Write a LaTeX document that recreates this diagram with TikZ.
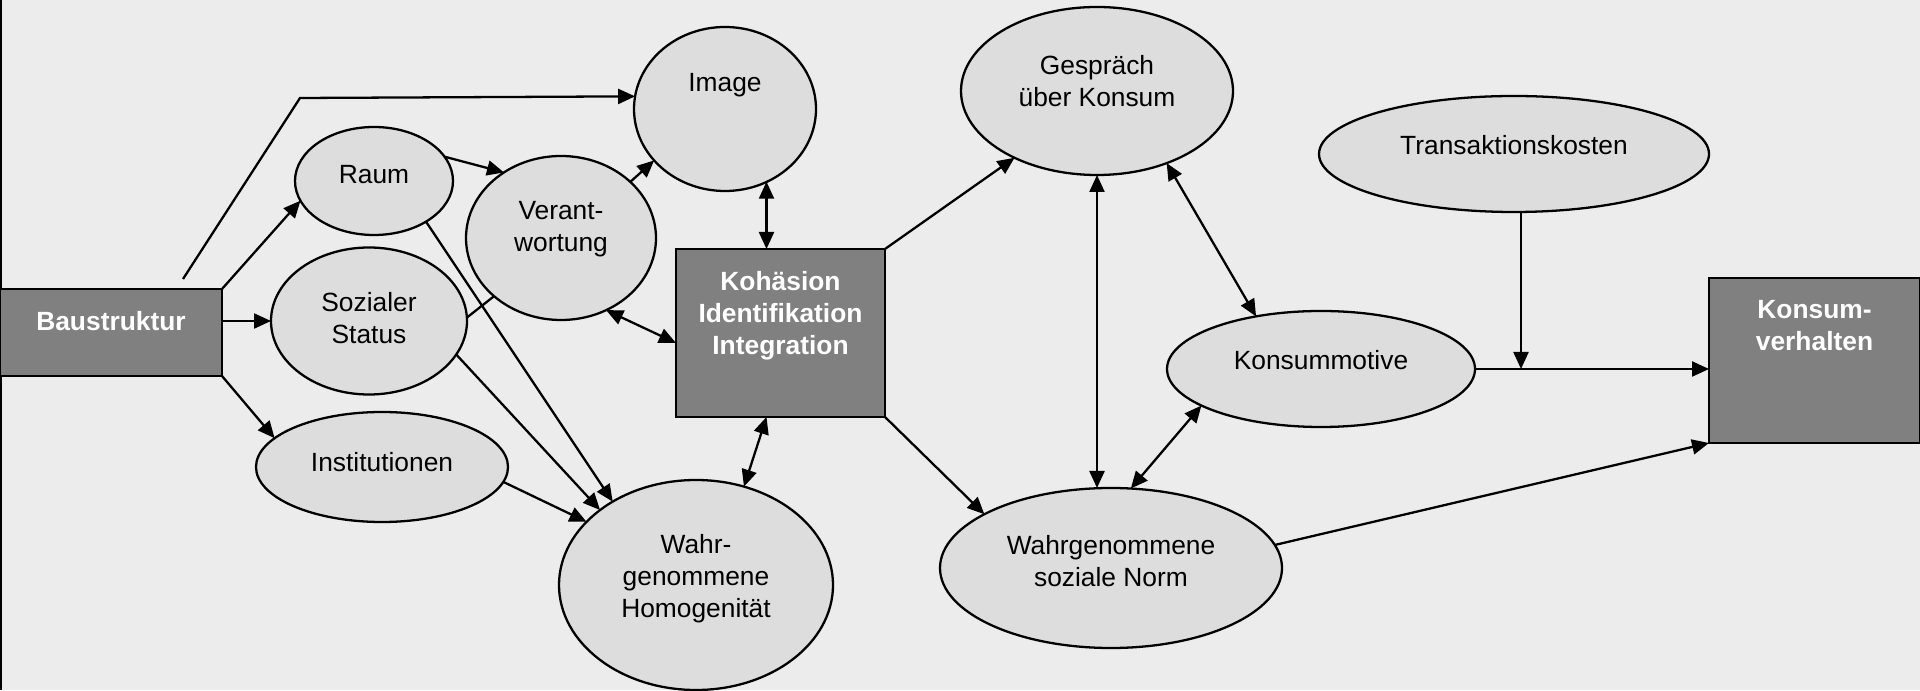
\documentclass[tikz,border=0pt]{standalone}
\usepackage{fontspec}
\setmainfont{Liberation Sans}
\usetikzlibrary{positioning,arrows.meta,calc,shapes.geometric}
\definecolor{bggray}{RGB}{236,236,236}
\definecolor{ovalgray}{RGB}{221,221,221}
\definecolor{boxgray}{RGB}{128,128,128}

\begin{document}
\begin{tikzpicture}[
  font=\fontsize{7.5}{9.1}\selectfont,
  oval/.style={ellipse, draw, fill=ovalgray, line width=0.65pt, inner sep=0pt, outer sep=0pt},
  darkbox/.style={rectangle, draw, fill=boxgray, line width=0.65pt, inner sep=0pt, outer sep=0pt},
  boxlabel/.style={text=white, font=\fontsize{7.5}{9.1}\selectfont\bfseries, align=center, inner sep=0pt},
  ovallabel/.style={align=center, inner sep=0pt},
  link/.style={line width=0.65pt, -{Triangle[length=1.7mm,width=1.5mm]}},
  twoway/.style={line width=0.65pt, {Triangle[length=1.7mm,width=1.5mm]}-{Triangle[length=1.7mm,width=1.5mm]}},
  bareline/.style={line width=0.65pt}
]
  \useasboundingbox (0,0) rectangle (19.2,6.9);
  \fill[bggray] (0,0) rectangle (19.2,6.9);
  \draw[line width=1pt] (0,0) -- (0,6.9);

  % left part: Baustruktur and its effects
  \node[darkbox, minimum width=2.22cm, minimum height=0.87cm] (bau) at (1.11,3.575) {};
  \node[boxlabel, below=0.22cm of bau.north] (bautxt) {Baustruktur};
  \node[oval, minimum width=1.58cm, minimum height=1.08cm] (raum) at (3.74,5.09) {};
  \node[ovallabel] (raumtxt) at ([yshift=0.06cm]raum.center) {Raum};
  \node[oval, minimum width=1.96cm, minimum height=1.47cm] (status) at (3.69,3.69) {};
  \node[ovallabel] (statustxt) at ([yshift=0.03cm]status.center) {Sozialer\\Status};
  \node[oval, minimum width=2.52cm, minimum height=1.10cm] (inst) at (3.82,2.23) {};
  \node[ovallabel] (insttxt) at ([yshift=0.05cm]inst.center) {Institutionen};
  \node[oval, minimum width=1.90cm, minimum height=1.64cm] (verant) at (5.61,4.52) {};
  \node[ovallabel] (veranttxt) at ([yshift=0.09cm]verant.center) {Verant-\\wortung};
  \node[oval, minimum width=1.82cm, minimum height=1.64cm] (img) at (7.25,5.81) {};
  \node[ovallabel] (imgtxt) at ([yshift=0.24cm]img.center) {Image};
  \node[oval, minimum width=2.74cm, minimum height=2.10cm] (homog) at (6.96,1.05) {};
  \node[ovallabel] (homogtxt) at ([yshift=0.06cm]homog.center) {Wahr-\\genommene\\Homogenität};

  % middle box
  \node[darkbox, minimum width=2.09cm, minimum height=1.68cm] (koh) at (7.805,3.57) {};
  \node[boxlabel, below=0.22cm of koh.north] (kohtxt) {Kohäsion\\Identifikation\\Integration};

  % right part
  \node[oval, minimum width=2.72cm, minimum height=1.68cm] (gespr) at (10.97,5.99) {};
  \node[ovallabel] (gesprtxt) at ([yshift=0.10cm]gespr.center) {Gespräch\\über Konsum};
  \node[oval, minimum width=3.90cm, minimum height=1.16cm] (trans) at (15.14,5.36) {};
  \node[ovallabel] (transtxt) at ([yshift=0.09cm]trans.center) {Transaktionskosten};
  \node[oval, minimum width=3.08cm, minimum height=1.16cm] (motive) at (13.21,3.21) {};
  \node[ovallabel] (motivetxt) at ([yshift=0.09cm]motive.center) {Konsummotive};
  \node[oval, minimum width=3.42cm, minimum height=1.60cm] (norm) at (11.11,1.22) {};
  \node[ovallabel] (normtxt) at ([yshift=0.07cm]norm.center) {Wahrgenommene\\soziale Norm};
  \node[darkbox, minimum width=2.11cm, minimum height=1.65cm] (verh) at (18.145,3.295) {};
  \node[boxlabel, below=0.22cm of verh.north] (verhtxt) {Konsum-\\verhalten};

  % connectors, left
  \coordinate (baustart) at ($(bau.north)+(0.72,0.10)$);
  \coordinate (bauknick) at (3.00,5.92);
  \draw[link] (baustart) -- (bauknick) -- (img.172);
  \draw[link] (bau.north east) -- (raum.195);
  \draw[link] (bau.east |- status.west) -- (status.west);
  \draw[link] (bau.south east) -- (inst.165);
  \draw[link] (raum.19) -- (verant.131);
  \draw[link] (verant.39) -- (img.216);
  \draw[bareline] (status.2) -- (verant.221);
  \draw[link] (raum.-38) -- (homog.135);
  \draw[link] (status.-21) -- (homog.142);
  \draw[link] (inst.-7) -- (homog.150);

  % connectors around Kohaesion
  \coordinate (kohtop) at ([xshift=-0.14cm]koh.north);
  \coordinate (kohbot) at ([xshift=-0.14cm]koh.south);
  \draw[twoway] (kohtop) -- (kohtop |- img.-60);
  \draw[twoway] (verant.-58) -- ([yshift=-0.10cm]koh.west);
  \draw[twoway] (kohbot) -- (homog.64);
  \draw[link] (koh.north east) -- (gespr.219);
  \draw[link] (koh.south east) -- (norm.157);

  % connectors, right
  \coordinate (transfoot) at ([xshift=0.07cm]trans.south);
  \draw[twoway] (gespr.south) -- (gespr.south |- norm.north);
  \draw[twoway] (gespr.-46) -- (motive.141);
  \draw[twoway] (norm.76) -- (motive.197);
  \draw[link] (motive.east) -- (motive.east -| verh.west);
  \draw[link] (transfoot) -- (transfoot |- motive.east);
  \draw[link] (norm.8) -- (verh.south west);
\end{tikzpicture}
\end{document}
